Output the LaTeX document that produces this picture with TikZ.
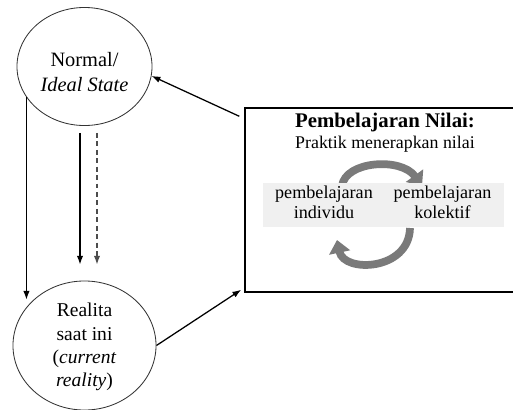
\documentclass[tikz,border=0pt]{standalone}
\usepackage{fontspec}
\setmainfont{Liberation Serif}
\usetikzlibrary{shapes.geometric,arrows.meta,calc}

\begin{document}
\begin{tikzpicture}[x=0.025cm,y=-0.025cm,
    oval/.style={ellipse,draw=black!80,line width=0.6pt,inner sep=0pt},
    panah/.style={line width=0.9pt,-{Latex[length=2.2mm,width=1.6mm]}},
    putar/.style={line width=5.5pt,black!52,-{Triangle[length=3.2mm,width=5.2mm]}}]
    % Siklus nilai: ideal, realita, pembelajaran
    \useasboundingbox (0,0) rectangle (513,409);
    \clip (0,0) rectangle (513,409);

    \node[oval,minimum width=3.375cm,minimum height=2.95cm] (ideal) at (84.5,66.5) {};
    \node[align=center,font=\fontsize{14.5}{17.8}\selectfont] (idealteks) at (84.5,72.5) {Normal/\\\textit{Ideal State}};

    \node[oval,minimum width=3.575cm,minimum height=3.225cm] (real) at (84.5,345.5) {};
    \node[align=center,font=\fontsize{13.9}{16.6}\selectfont] (realteks) at (84.5,347) {Realita\\saat ini\\(\textit{current}\\\textit{reality})};

    \node[draw,line width=1pt,minimum width=7cm,minimum height=4.6cm] (praktik) at (385,200) {};

    \node[anchor=base,font=\bfseries\fontsize{14.8}{17}\selectfont] (judul) at (385,127) {Pembelajaran Nilai:};
    \node[anchor=base,font=\fontsize{12.7}{15}\selectfont] (sub) at (385,148) {Praktik menerapkan nilai};

    % putaran individu - kolektif
    \draw[putar] (342,186) .. controls (345,161) and (401,157) .. (422,186);
    \draw[putar] (410,228) .. controls (409,271) and (344,273) .. (337,240);

    \node[fill=gray!12,minimum width=6.025cm,minimum height=1.1cm] (pita) at (383.5,205) {};
    \node[align=center,font=\fontsize{12.9}{14.2}\selectfont] (individu) at (324,202.5) {pembelajaran\\individu};
    \node[align=center,font=\fontsize{12.9}{14.2}\selectfont] (kolektif) at (442.5,202.5) {pembelajaran\\kolektif};

    % panah antar bagian
    \draw[panah] (ideal.208) -- ($(ideal.208 |- real.145)+(0,-6)$);

    \draw[panah] ($(ideal.south)+(-4.5,7)$) -- ($(real.north)+(-4.5,-16)$);

    \draw[panah,black!70,dash pattern=on 3.5pt off 2.5pt] ($(ideal.south)+(12.5,7)$) -- ($(real.north)+(12.5,-16)$);

    \draw[panah] ($(praktik.north west)+(-5,9)$) -- (ideal.-8);

    \draw[panah] (real.east) -- ($(praktik.south west)+(-3,-3)$);
\end{tikzpicture}
\end{document}
